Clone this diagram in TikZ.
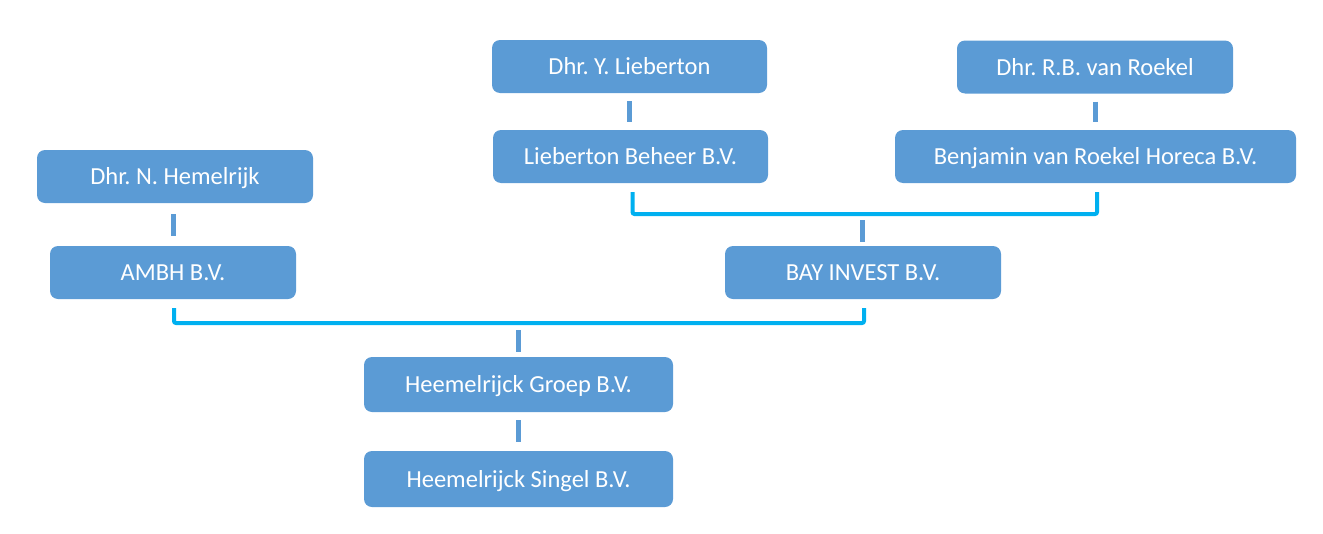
\documentclass[tikz,border=0pt]{standalone}
\usepackage{fontspec}
\setmainfont{Carlito}
\usepackage{tikz}
\usetikzlibrary{positioning}

\definecolor{boxblue}{RGB}{91,155,213}
\definecolor{linecyan}{RGB}{0,176,240}

\tikzset{
    entity/.style={fill=boxblue, rounded corners=8pt, text=white,
        minimum height=53pt, inner sep=0pt, text height=16pt, text depth=0pt,
        font=\fontsize{24.5}{28}\selectfont\frenchspacing},
    owns/.style={draw=boxblue, line width=5pt},
    bracket/.style={draw=linecyan, line width=4pt, rounded corners=2pt}
}

\begin{document}
\begin{tikzpicture}[x=1pt, y=-1pt]
        % the canvas is kept at the size of the original picture
        \useasboundingbox (0,0) rectangle (1323,533);

        % the owners at the top, every company under its owner
        \node[entity, minimum width=275pt] (yLieb) at (629.5,66.5) {Dhr. Y. Lieberton};
        \node[entity, minimum width=275pt] (lBeheer) at (630.5,156.5) {Lieberton Beheer B.V.};
        \node[entity, minimum width=276pt] (rbRoek) at (1095,67) {Dhr. R.B. van Roekel};
        \node[entity, minimum width=401pt] (benjamin) at (1095.5,156.5) {Benjamin van Roekel Horeca B.V.};
        \node[entity, minimum width=276pt] (nHemel) at (175,176.5) {Dhr. N. Hemelrijk};
        \node[entity, minimum width=246pt] (ambh) at (173,272.5) {AMBH B.V.};
        \node[entity, minimum width=276pt] (bay) at (863,272.5) {BAY INVEST B.V.};
        \node[entity, minimum width=309pt, minimum height=55pt] (groep) at (518.5,384.5) {Heemelrijck Groep B.V.};
        \node[entity, minimum width=309pt, minimum height=56pt] (singel) at (518.5,479) {Heemelrijck Singel B.V.};

        % short links from a person to his holding
        \draw[owns, shorten <=8pt, shorten >=8pt] (yLieb.south) -- (yLieb.south |- lBeheer.north);
        \draw[owns, shorten <=8pt, shorten >=8pt] (rbRoek.south) -- (rbRoek.south |- benjamin.north);
        \draw[owns, shorten <=11pt, shorten >=10pt] (nHemel.south -| ambh) -- (ambh.north);
        \draw[owns, shorten <=8pt, shorten >=9pt] (groep.south) -- (singel.north);

        % the two holdings that share BAY INVEST
        \coordinate (topJoin) at (862,214);
        \draw[bracket] ([xshift=2pt, yshift=-9pt]lBeheer.south) |- (topJoin)
            -| ([xshift=1.5pt, yshift=-9pt]benjamin.south);
        \draw[owns, shorten <=6pt, shorten >=4pt] (topJoin) -- (topJoin |- bay.north);

        % AMBH and BAY INVEST together above the Groep
        \coordinate (lowJoin) at (518,323);
        \draw[bracket] ([xshift=1pt, yshift=-9pt]ambh.south) |- (lowJoin)
            -| ([xshift=1pt, yshift=-9pt]bay.south);
        \draw[owns, shorten <=7pt, shorten >=5pt] (lowJoin) -- (lowJoin |- groep.north);
\end{tikzpicture}
\end{document}
